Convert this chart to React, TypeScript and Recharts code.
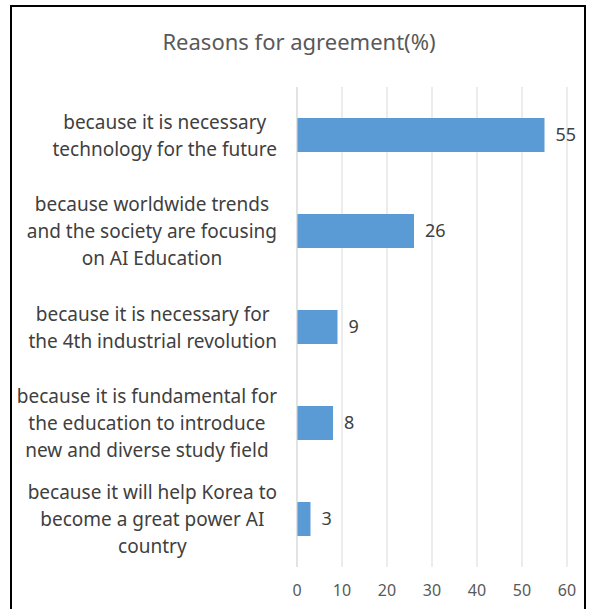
import { BarChart, Bar, XAxis, YAxis, CartesianGrid, LabelList } from "recharts";

const reasons = [
  "because it is necessary\ntechnology for the future",
  "because worldwide trends\nand the society are focusing\non AI Education",
  "because it is necessary for\nthe 4th industrial revolution",
  "because it is fundamental for\nthe education to introduce\nnew and diverse study field",
  "because it will help Korea to\nbecome a great power AI\ncountry",
];
const shares = [55, 26, 9, 8, 3];
const xTicks = [0, 10, 20, 30, 40, 50, 60];

const data = reasons.map((r, i) => ({ reason: r, value: shares[i] }));

const FONT = "'Noto Sans', 'Open Sans', sans-serif";
const LABEL_SIZE = 19;
const LINE_H = 27;

let ctx: CanvasRenderingContext2D | null = null;
function textWidth(s: string) {
  if (!ctx) ctx = document.createElement("canvas").getContext("2d");
  if (!ctx) return s.length * 9;
  ctx.font = `${LABEL_SIZE}px ${FONT}`;
  return ctx.measureText(s).width;
}

// Excel-style wrapped label: lines centered inside a block that is right-aligned to the axis
function ReasonTick(props: any) {
  const { x, y, payload } = props;
  const lines = String(payload.value).split("\n");
  const w = Math.max(...lines.map(textWidth));
  const cx = x - w / 2;
  const startY = y - ((lines.length - 1) * LINE_H) / 2;
  return (
    <text
      x={cx}
      y={startY}
      textAnchor="middle"
      fill="#404040"
      fontSize={LABEL_SIZE}
      fontFamily={FONT}
      dominantBaseline="central"
    >
      {lines.map((l, i) => (
        <tspan key={i} x={cx} y={startY + i * LINE_H} dominantBaseline="central">
          {l}
        </tspan>
      ))}
    </text>
  );
}

export default function App() {
  return (
    <div style={{ position: "absolute", left: 0, top: 0, width: 589, height: 609, background: "#fff", overflow: "hidden", fontFamily: FONT }}>
      <div
        style={{
          position: "absolute",
          left: 10,
          top: 5,
          width: 576,
          height: 620,
          border: "2px solid #000",
          boxSizing: "border-box",
        }}
      />
      <div
        style={{
          position: "absolute",
          left: 0,
          width: 598,
          top: 27,
          textAlign: "center",
          fontSize: 22,
          color: "#595959",
          lineHeight: "28px",
        }}
      >
        Reasons for agreement(%)
      </div>
      <div style={{ position: "absolute", left: 0, top: 0 }}>
        <BarChart
          width={589}
          height={609}
          data={data}
          layout="vertical"
          margin={{ top: 87, right: 22, bottom: 12, left: 10 }}
        >
          <CartesianGrid horizontal={false} stroke="#d9d9d9" />
          <XAxis
            type="number"
            domain={[0, 60]}
            ticks={xTicks}
            height={30}
            axisLine={false}
            tickLine={false}
            tickSize={0}
            tickMargin={18}
            tick={{ fill: "#595959", fontSize: 16, fontFamily: FONT }}
          />
          <YAxis
            type="category"
            dataKey="reason"
            width={287}
            axisLine={{ stroke: "#d9d9d9" }}
            tickLine={false}
            tickSize={0}
            tickMargin={20}
            tick={<ReasonTick />}
            interval={0}
          />
          <Bar dataKey="value" fill="#5B9BD5" barSize={34} isAnimationActive={false}>
            <LabelList
              dataKey="value"
              position="right"
              offset={11}
              fill="#404040"
              fontSize={18}
              fontFamily={FONT}
            />
          </Bar>
        </BarChart>
      </div>
    </div>
  );
}
